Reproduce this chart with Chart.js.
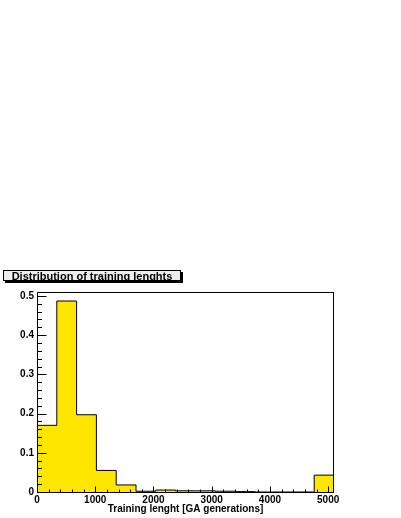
<!DOCTYPE html>
<html>
<head>
<meta charset="utf-8">
<script src="https://cdn.jsdelivr.net/npm/chart.js@4/dist/chart.umd.min.js"></script>
<style>
  html, body { margin: 0; padding: 0; background: #ffffff; }
  #c { display: block; }
</style>
</head>
<body>
<canvas id="c" width="401" height="518"></canvas>
<script>
// ---- data ----
const chartTitle = "Distribution of training lenghts";
const xAxisTitle = "Training lenght [GA generations]";
const binLowEdges = [0, 340, 680, 1020, 1360, 1700, 2040, 2380, 2720, 3060, 3400, 3740, 4080, 4420, 4760];
const binUpperEdge = 5100;
const fractions = [0.170, 0.487, 0.197, 0.055, 0.018, 0.002, 0.005, 0.003, 0.003, 0.002, 0.001, 0, 0, 0, 0.043];
const xTickValues = [0, 1000, 2000, 3000, 4000, 5000];
const yTickValues = [0, 0.1, 0.2, 0.3, 0.4, 0.5];
const xMinorStep = 200;
const yMinorStep = 0.02;

// stepped outline points: left edge of each bin, plus the final upper edge
const stepPoints = binLowEdges.map((lo, i) => ({ x: lo, y: fractions[i] }));
stepPoints.push({ x: binUpperEdge, y: fractions[fractions.length - 1] });

const FONT = "'Liberation Sans', Arial, Helvetica, sans-serif";

const rootFrame = {
  id: 'rootFrame',
  afterDatasetsDraw(chart) {
    const { ctx, chartArea: a, scales: { x, y } } = chart;
    ctx.save();
    ctx.strokeStyle = '#000';
    ctx.lineWidth = 1;
    // frame
    ctx.strokeRect(Math.round(a.left) + 0.5, Math.round(a.top) + 0.5,
                   Math.round(a.right - a.left) - 1, Math.round(a.bottom - a.top));
    const bottom = Math.round(a.bottom) + 0.5;
    const left = Math.round(a.left) + 0.5;
    ctx.beginPath();
    // x ticks (inside)
    for (let v = 0; v <= x.max + 1e-9; v += xMinorStep) {
      const px = Math.round(x.getPixelForValue(v)) + 0.5;
      const major = xTickValues.some(t => Math.abs(t - v) < 1e-6);
      const len = major ? 6 : 3;
      ctx.moveTo(px, bottom);
      ctx.lineTo(px, bottom - len);
    }
    // y ticks (inside)
    for (let k = 0; k * yMinorStep <= y.max + 1e-9; k++) {
      const v = k * yMinorStep;
      const py = Math.round(y.getPixelForValue(v)) + 0.5;
      const major = yTickValues.some(t => Math.abs(t - v) < 1e-6);
      const len = major ? 9 : 4.5;
      ctx.moveTo(left, py);
      ctx.lineTo(left + len, py);
    }
    ctx.stroke();
    ctx.restore();
  },
  afterDraw(chart) {
    const { ctx } = chart;
    ctx.save();
    ctx.font = 'bold 11px ' + FONT;
    const tw = ctx.measureText(chartTitle).width;
    const bx = 3, by = 270, bh = 11;
    const bw = Math.round(tw + 17);
    // shadow
    ctx.fillStyle = '#000';
    ctx.fillRect(bx + 2, by + 2, bw, bh);
    // box
    ctx.fillStyle = '#eeeeee';
    ctx.fillRect(bx, by, bw, bh);
    ctx.strokeStyle = '#000';
    ctx.lineWidth = 1;
    ctx.strokeRect(bx + 0.5, by + 0.5, bw - 1, bh - 1);
    ctx.fillStyle = '#000';
    ctx.textBaseline = 'middle';
    ctx.textAlign = 'center';
    ctx.fillText(chartTitle, bx + bw / 2, by + bh / 2 + 1);
    ctx.restore();
  }
};

new Chart(document.getElementById('c'), {
  type: 'line',
  data: {
    datasets: [{
      data: stepPoints,
      stepped: 'before',
      fill: 'origin',
      backgroundColor: '#ffe600',
      borderColor: '#000',
      borderWidth: 1,
      pointRadius: 0,
      tension: 0
    }]
  },
  options: {
    responsive: false,
    animation: false,
    events: [],
    layout: { padding: { left: 0, right: 67, top: 292, bottom: 0 } },
    plugins: { legend: { display: false }, tooltip: { enabled: false }, title: { display: false } },
    scales: {
      x: {
        type: 'linear',
        min: 0,
        max: binUpperEdge,
        afterFit: s => { s.height = 26; },
        afterBuildTicks: s => { s.ticks = xTickValues.map(v => ({ value: v })); },
        grid: { display: false, drawTicks: false },
        border: { display: false },
        ticks: {
          color: '#000',
          font: { family: FONT, size: 10, weight: 'bold' },
          padding: 2,
          maxRotation: 0,
          autoSkip: false,
          callback: v => String(v)
        },
        title: {
          display: true,
          text: xAxisTitle,
          color: '#000',
          font: { family: FONT, size: 10, weight: 'bold' },
          padding: { top: 0, bottom: 3 }
        }
      },
      y: {
        type: 'linear',
        min: 0,
        max: 0.51,
        afterFit: s => { s.width = 37; },
        afterBuildTicks: s => { s.ticks = yTickValues.map(v => ({ value: v })); },
        grid: { display: false, drawTicks: false },
        border: { display: false },
        ticks: {
          color: '#000',
          font: { family: FONT, size: 10, weight: 'bold' },
          padding: 3,
          callback: v => (v === 0 ? '0' : v.toFixed(1))
        }
      }
    }
  },
  plugins: [rootFrame]
});
</script>
</body>
</html>
